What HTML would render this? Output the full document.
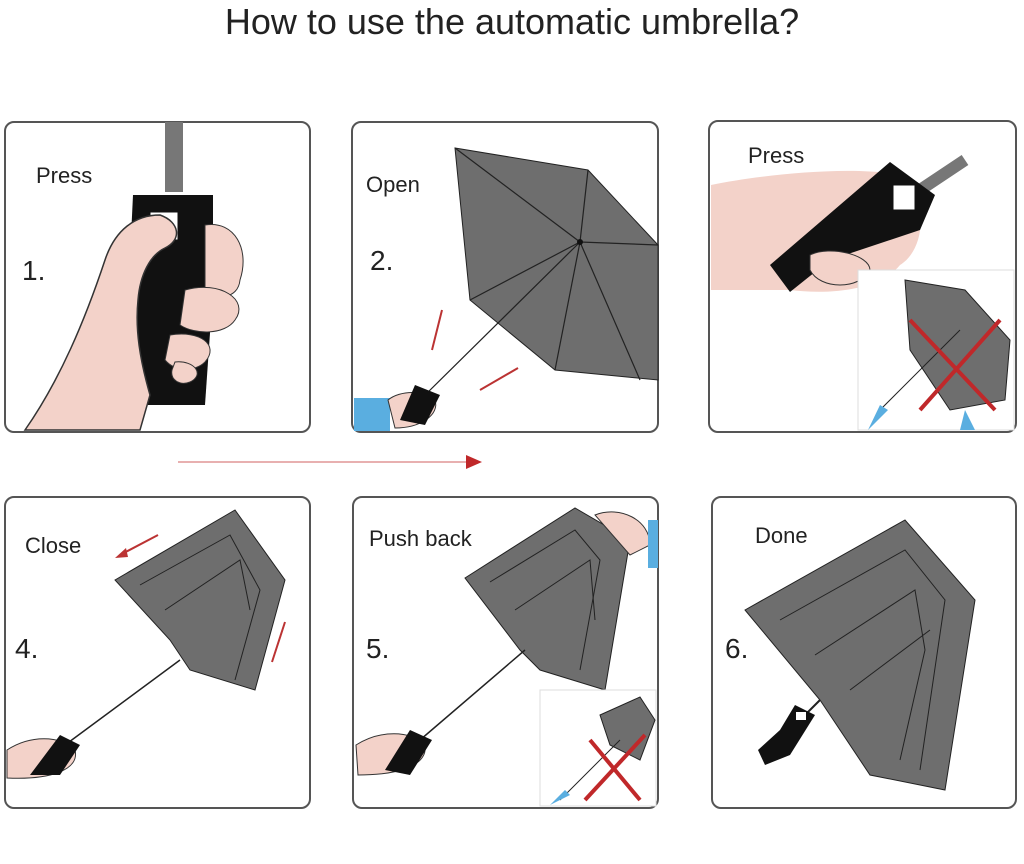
<!DOCTYPE html>
<html><head><meta charset="utf-8"><style>
html,body{margin:0;padding:0;background:#fff;width:1024px;height:864px;overflow:hidden}
svg text{font-family:"Liberation Sans",sans-serif;fill:#222}
</style></head><body>
<svg width="1024" height="864" viewBox="0 0 1024 864" xmlns="http://www.w3.org/2000/svg">
<text x="512" y="34" font-size="36" text-anchor="middle" fill="#222">How to use the automatic umbrella?</text>
<g fill="none" stroke="#555" stroke-width="2">
<rect x="5" y="122" width="305" height="310" rx="9"/>
<rect x="352" y="122" width="306" height="310" rx="9"/>
<rect x="709" y="121" width="307" height="311" rx="9"/>
<rect x="5" y="497" width="305" height="311" rx="9"/>
<rect x="353" y="497" width="305" height="311" rx="9"/>
<rect x="712" y="497" width="304" height="311" rx="9"/>
</g>
<line x1="178" y1="462" x2="468" y2="462" stroke="#e8b0b0" stroke-width="2"/>
<polygon points="466,455 482,462 466,469" fill="#c0282a"/>

<!-- Panel 1 -->
<text x="36" y="183" font-size="22">Press</text>
<text x="22" y="280" font-size="28">1.</text>
<rect x="165" y="122" width="18" height="70" fill="#777"/>
<path d="M133,195 L213,195 L213,290 L205,405 L135,405 L128,300 Z" fill="#111"/>
<rect x="150" y="212" width="28" height="28" fill="#fff" stroke="#111"/>
<path d="M25,430 C60,380 85,320 105,260 C115,230 135,215 160,215 C180,222 182,240 165,248 C150,255 140,275 138,300 C135,330 140,360 150,395 L140,430 Z" fill="#f3d2c9" stroke="#333" stroke-width="1.5"/>
<path d="M205,225 C235,220 250,250 240,280 C238,300 215,300 205,290 Z" fill="#f3d2c9" stroke="#333"/>
<path d="M185,290 C220,280 250,300 235,320 C225,335 195,335 180,325 Z" fill="#f3d2c9" stroke="#333"/>
<path d="M170,335 C200,330 220,345 205,362 C195,372 175,372 165,360 Z" fill="#f3d2c9" stroke="#333"/>
<path d="M175,362 C195,360 205,375 190,382 C180,386 170,380 172,370 Z" fill="#f3d2c9" stroke="#333"/>

<!-- Panel 2 -->
<text x="366" y="192" font-size="22">Open</text>
<text x="370" y="270" font-size="28">2.</text>
<path d="M455,148 L588,170 L658,245 L658,380 L555,370 L470,300 Z" fill="#6e6e6e" stroke="#222"/>
<g stroke="#222" stroke-width="1.2"><line x1="580" y1="242" x2="455" y2="148"/><line x1="580" y1="242" x2="588" y2="170"/><line x1="580" y1="242" x2="658" y2="245"/><line x1="580" y1="242" x2="640" y2="380"/><line x1="580" y1="242" x2="555" y2="370"/><line x1="580" y1="242" x2="470" y2="300"/><line x1="580" y1="242" x2="420" y2="400"/></g>
<circle cx="580" cy="242" r="3" fill="#111"/>
<rect x="354" y="398" width="36" height="33" fill="#5aaee0"/>
<path d="M388,400 C400,390 425,390 435,400 C440,415 420,428 395,428 Z" fill="#f3d2c9" stroke="#333"/>
<path d="M415,385 L440,395 L425,425 L400,420 Z" fill="#111"/>
<line x1="432" y1="350" x2="442" y2="310" stroke="#b33" stroke-width="2"/>
<line x1="480" y1="390" x2="518" y2="368" stroke="#b33" stroke-width="2"/>

<!-- Panel 3 -->
<text x="748" y="163" font-size="22">Press</text>
<text x="727" y="270" font-size="28">3.</text>
<path d="M711,185 C760,175 850,165 900,175 C930,200 925,250 900,265 C880,290 830,295 790,290 L711,290 Z" fill="#f3d2c9"/>
<line x1="920" y1="190" x2="965" y2="160" stroke="#777" stroke-width="12"/>
<path d="M770,265 L890,162 L935,195 L920,230 L830,260 L790,292 Z" fill="#111"/>
<rect x="893" y="185" width="22" height="25" fill="#fff" stroke="#111"/>
<path d="M810,255 C830,245 870,255 870,270 C860,290 820,290 810,270 Z" fill="#f3d2c9" stroke="#333"/>
<rect x="858" y="270" width="156" height="160" fill="#fff" stroke="#ddd"/>
<path d="M905,280 L965,290 L1010,340 L1005,400 L950,410 L910,350 Z" fill="#6e6e6e" stroke="#222"/>
<line x1="960" y1="330" x2="880" y2="410" stroke="#222"/>
<path d="M868,430 L880,405 L888,410 Z" fill="#5aaee0"/>
<path d="M965,410 L975,430 L960,430 Z" fill="#5aaee0"/>
<g stroke="#c0282a" stroke-width="4"><line x1="910" y1="320" x2="995" y2="410"/><line x1="1000" y1="320" x2="920" y2="410"/></g>

<!-- Panel 4 -->
<text x="25" y="553" font-size="22">Close</text>
<text x="15" y="658" font-size="28">4.</text>
<line x1="120" y1="555" x2="158" y2="535" stroke="#b33" stroke-width="2"/>
<polygon points="115,558 126,548 128,557" fill="#b33"/>
<line x1="285" y1="622" x2="272" y2="662" stroke="#b33" stroke-width="2"/>
<path d="M115,580 L235,510 L285,580 L255,690 L190,670 L170,640 Z" fill="#6e6e6e" stroke="#222"/>
<g stroke="#222" fill="none"><path d="M140,585 L230,535 L260,590 L235,680"/><path d="M165,610 L240,560 L250,610"/></g>
<line x1="180" y1="660" x2="65" y2="745" stroke="#222" stroke-width="1.5"/>
<path d="M7,750 C30,735 60,735 75,750 C80,770 50,780 7,778 Z" fill="#f3d2c9" stroke="#333"/>
<path d="M60,735 L80,745 L60,775 L30,775 Z" fill="#111"/>

<!-- Panel 5 -->
<text x="369" y="546" font-size="22">Push  back</text>
<text x="366" y="658" font-size="28">5.</text>
<path d="M465,578 L575,508 L630,540 L605,690 L540,670 L520,650 Z" fill="#6e6e6e" stroke="#222"/>
<g stroke="#222" fill="none"><path d="M490,582 L575,530 L600,560 L580,670"/><path d="M515,610 L590,560 L595,620"/></g>
<path d="M595,515 C620,505 650,520 650,545 L630,555 Z" fill="#f3d2c9" stroke="#333"/>
<rect x="648" y="520" width="10" height="48" fill="#5aaee0"/>
<line x1="525" y1="650" x2="420" y2="740" stroke="#222" stroke-width="1.5"/>
<path d="M356,745 C380,730 410,730 425,745 C428,765 400,775 358,775 Z" fill="#f3d2c9" stroke="#333"/>
<path d="M410,730 L432,740 L410,775 L385,770 Z" fill="#111"/>
<rect x="540" y="690" width="116" height="116" fill="#fff" stroke="#ddd"/>
<path d="M600,715 L640,697 L655,720 L640,760 L610,745 Z" fill="#6e6e6e" stroke="#222"/>
<line x1="620" y1="740" x2="560" y2="800" stroke="#222"/>
<path d="M550,805 L565,790 L570,795 Z" fill="#5aaee0"/>
<g stroke="#c0282a" stroke-width="4"><line x1="590" y1="740" x2="640" y2="800"/><line x1="645" y1="735" x2="585" y2="800"/></g>

<!-- Panel 6 -->
<text x="755" y="543" font-size="22">Done</text>
<text x="725" y="658" font-size="28">6.</text>
<path d="M745,610 L905,520 L975,600 L945,790 L870,775 L820,700 Z" fill="#6e6e6e" stroke="#222"/>
<g stroke="#222" fill="none"><path d="M780,620 L905,550 L945,600 L920,770"/><path d="M815,655 L915,590 L925,650 L900,760"/><path d="M850,690 L930,630"/></g>
<line x1="820" y1="700" x2="800" y2="720" stroke="#222" stroke-width="2"/>
<path d="M795,705 L815,715 L790,755 L765,765 L758,750 L780,730 Z" fill="#111"/>
<rect x="796" y="712" width="10" height="8" fill="#fff"/>
</svg>
</body></html>
